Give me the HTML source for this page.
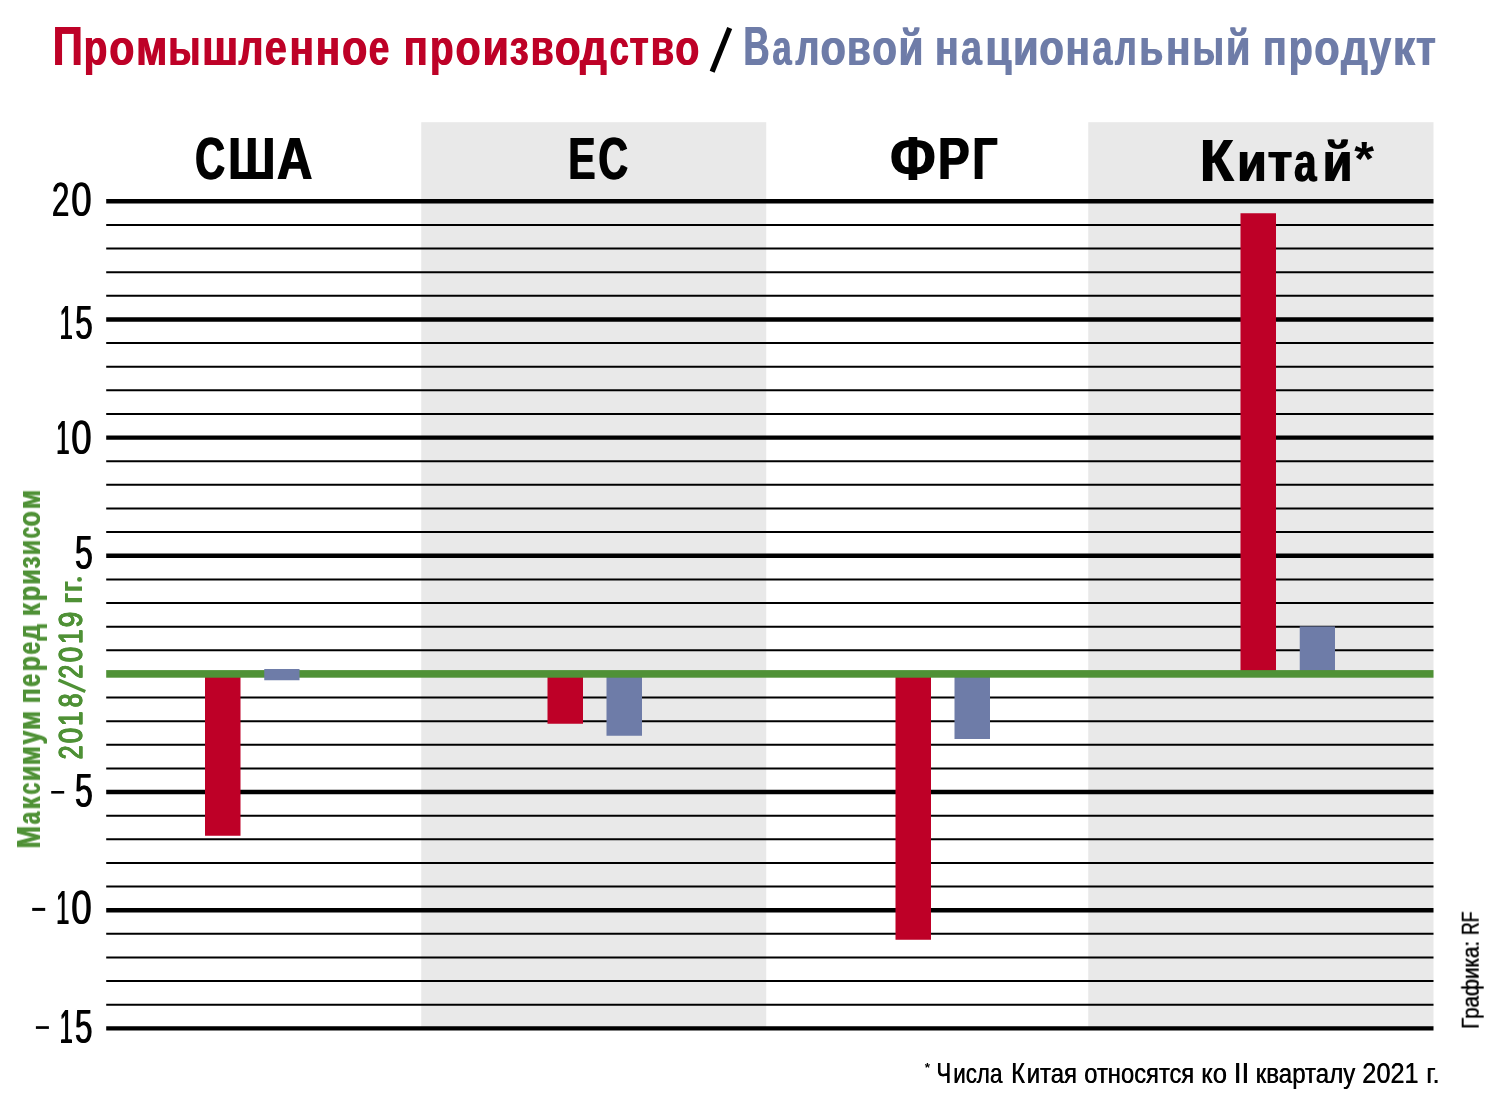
<!DOCTYPE html>
<html><head><meta charset="utf-8"><title>chart</title>
<style>
html,body{margin:0;padding:0;background:#fff;}
svg{display:block;font-family:"Liberation Sans",sans-serif;}
</style></head><body>
<svg width="1488" height="1096" viewBox="0 0 1488 1096">
<rect x="0" y="0" width="1488" height="1096" fill="#fff"/>
<rect x="421.25" y="122.2" width="345.0" height="906.20" fill="#e9e9e9"/>
<rect x="1088.25" y="122.2" width="345.25" height="906.20" fill="#e9e9e9"/>
<line x1="106.2" x2="1433.5" y1="201.30" y2="201.30" stroke="#000" stroke-width="4.4"/>
<line x1="106.2" x2="1433.5" y1="224.93" y2="224.93" stroke="#000" stroke-width="2"/>
<line x1="106.2" x2="1433.5" y1="248.56" y2="248.56" stroke="#000" stroke-width="2"/>
<line x1="106.2" x2="1433.5" y1="272.19" y2="272.19" stroke="#000" stroke-width="2"/>
<line x1="106.2" x2="1433.5" y1="295.82" y2="295.82" stroke="#000" stroke-width="2"/>
<line x1="106.2" x2="1433.5" y1="319.45" y2="319.45" stroke="#000" stroke-width="4.4"/>
<line x1="106.2" x2="1433.5" y1="343.08" y2="343.08" stroke="#000" stroke-width="2"/>
<line x1="106.2" x2="1433.5" y1="366.71" y2="366.71" stroke="#000" stroke-width="2"/>
<line x1="106.2" x2="1433.5" y1="390.34" y2="390.34" stroke="#000" stroke-width="2"/>
<line x1="106.2" x2="1433.5" y1="413.97" y2="413.97" stroke="#000" stroke-width="2"/>
<line x1="106.2" x2="1433.5" y1="437.60" y2="437.60" stroke="#000" stroke-width="4.4"/>
<line x1="106.2" x2="1433.5" y1="461.23" y2="461.23" stroke="#000" stroke-width="2"/>
<line x1="106.2" x2="1433.5" y1="484.86" y2="484.86" stroke="#000" stroke-width="2"/>
<line x1="106.2" x2="1433.5" y1="508.49" y2="508.49" stroke="#000" stroke-width="2"/>
<line x1="106.2" x2="1433.5" y1="532.12" y2="532.12" stroke="#000" stroke-width="2"/>
<line x1="106.2" x2="1433.5" y1="555.75" y2="555.75" stroke="#000" stroke-width="4.4"/>
<line x1="106.2" x2="1433.5" y1="579.38" y2="579.38" stroke="#000" stroke-width="2"/>
<line x1="106.2" x2="1433.5" y1="603.01" y2="603.01" stroke="#000" stroke-width="2"/>
<line x1="106.2" x2="1433.5" y1="626.64" y2="626.64" stroke="#000" stroke-width="2"/>
<line x1="106.2" x2="1433.5" y1="650.27" y2="650.27" stroke="#000" stroke-width="2"/>
<line x1="106.2" x2="1433.5" y1="697.53" y2="697.53" stroke="#000" stroke-width="2"/>
<line x1="106.2" x2="1433.5" y1="721.16" y2="721.16" stroke="#000" stroke-width="2"/>
<line x1="106.2" x2="1433.5" y1="744.79" y2="744.79" stroke="#000" stroke-width="2"/>
<line x1="106.2" x2="1433.5" y1="768.42" y2="768.42" stroke="#000" stroke-width="2"/>
<line x1="106.2" x2="1433.5" y1="792.05" y2="792.05" stroke="#000" stroke-width="4.4"/>
<line x1="106.2" x2="1433.5" y1="815.68" y2="815.68" stroke="#000" stroke-width="2"/>
<line x1="106.2" x2="1433.5" y1="839.31" y2="839.31" stroke="#000" stroke-width="2"/>
<line x1="106.2" x2="1433.5" y1="862.94" y2="862.94" stroke="#000" stroke-width="2"/>
<line x1="106.2" x2="1433.5" y1="886.57" y2="886.57" stroke="#000" stroke-width="2"/>
<line x1="106.2" x2="1433.5" y1="910.20" y2="910.20" stroke="#000" stroke-width="4.4"/>
<line x1="106.2" x2="1433.5" y1="933.83" y2="933.83" stroke="#000" stroke-width="2"/>
<line x1="106.2" x2="1433.5" y1="957.46" y2="957.46" stroke="#000" stroke-width="2"/>
<line x1="106.2" x2="1433.5" y1="981.09" y2="981.09" stroke="#000" stroke-width="2"/>
<line x1="106.2" x2="1433.5" y1="1004.72" y2="1004.72" stroke="#000" stroke-width="2"/>
<line x1="106.2" x2="1433.5" y1="1028.35" y2="1028.35" stroke="#000" stroke-width="4.4"/>
<rect x="205" y="674.00" width="35.5" height="161.75" fill="#be0027"/>
<rect x="547.5" y="674.00" width="35.5" height="49.75" fill="#be0027"/>
<rect x="606.5" y="674.00" width="35.5" height="61.75" fill="#6e7ca8"/>
<rect x="895.5" y="674.00" width="35.5" height="265.75" fill="#be0027"/>
<rect x="954.5" y="674.00" width="35.5" height="65.00" fill="#6e7ca8"/>
<rect x="1240.5" y="213.25" width="35.5" height="460.75" fill="#be0027"/>
<rect x="1299.75" y="626.40" width="35.25" height="47.60" fill="#6e7ca8"/>
<rect x="106.2" y="670.1" width="1327.3" height="7.6" fill="#4f9136"/>
<rect x="264.25" y="669.00" width="35.25" height="11.25" fill="#6e7ca8"/>
<g opacity="0.999">
<text transform="translate(52.13,64.90) scale(0.7610,1.0000)" font-size="55" font-weight="bold" fill="#be0027">П</text>
<text transform="translate(53.13,64.90) scale(0.7610,1.0000)" font-size="55" font-weight="bold" fill="#be0027">П</text>
<text transform="translate(83.19,64.90) scale(0.7017,0.9150)" font-size="55" font-weight="bold" fill="#be0027">р</text>
<text transform="translate(84.19,64.90) scale(0.7017,0.9150)" font-size="55" font-weight="bold" fill="#be0027">р</text>
<text transform="translate(108.71,64.90) scale(0.7481,0.9150)" font-size="55" font-weight="bold" fill="#be0027">о</text>
<text transform="translate(109.71,64.90) scale(0.7481,0.9150)" font-size="55" font-weight="bold" fill="#be0027">о</text>
<text transform="translate(135.44,64.90) scale(0.7728,0.9150)" font-size="55" font-weight="bold" fill="#be0027">м</text>
<text transform="translate(136.44,64.90) scale(0.7728,0.9150)" font-size="55" font-weight="bold" fill="#be0027">м</text>
<text transform="translate(167.64,64.90) scale(0.6870,0.9150)" font-size="55" font-weight="bold" fill="#be0027">ы</text>
<text transform="translate(168.64,64.90) scale(0.6870,0.9150)" font-size="55" font-weight="bold" fill="#be0027">ы</text>
<text transform="translate(201.38,64.90) scale(0.7926,0.9150)" font-size="55" font-weight="bold" fill="#be0027">ш</text>
<text transform="translate(202.38,64.90) scale(0.7926,0.9150)" font-size="55" font-weight="bold" fill="#be0027">ш</text>
<text transform="translate(237.90,64.90) scale(0.7139,0.9150)" font-size="55" font-weight="bold" fill="#be0027">л</text>
<text transform="translate(238.90,64.90) scale(0.7139,0.9150)" font-size="55" font-weight="bold" fill="#be0027">л</text>
<text transform="translate(264.16,64.90) scale(0.7218,0.9150)" font-size="55" font-weight="bold" fill="#be0027">е</text>
<text transform="translate(265.16,64.90) scale(0.7218,0.9150)" font-size="55" font-weight="bold" fill="#be0027">е</text>
<text transform="translate(289.06,64.90) scale(0.7376,0.9150)" font-size="55" font-weight="bold" fill="#be0027">н</text>
<text transform="translate(290.06,64.90) scale(0.7376,0.9150)" font-size="55" font-weight="bold" fill="#be0027">н</text>
<text transform="translate(315.37,64.90) scale(0.7357,0.9150)" font-size="55" font-weight="bold" fill="#be0027">н</text>
<text transform="translate(316.37,64.90) scale(0.7357,0.9150)" font-size="55" font-weight="bold" fill="#be0027">н</text>
<text transform="translate(341.60,64.90) scale(0.7547,0.9150)" font-size="55" font-weight="bold" fill="#be0027">о</text>
<text transform="translate(342.60,64.90) scale(0.7547,0.9150)" font-size="55" font-weight="bold" fill="#be0027">о</text>
<text transform="translate(368.34,64.90) scale(0.6727,0.9150)" font-size="55" font-weight="bold" fill="#be0027">е</text>
<text transform="translate(369.34,64.90) scale(0.6727,0.9150)" font-size="55" font-weight="bold" fill="#be0027">е</text>
<text transform="translate(403.27,64.90) scale(0.7226,0.9150)" font-size="55" font-weight="bold" fill="#be0027">п</text>
<text transform="translate(404.27,64.90) scale(0.7226,0.9150)" font-size="55" font-weight="bold" fill="#be0027">п</text>
<text transform="translate(429.59,64.90) scale(0.7017,0.9150)" font-size="55" font-weight="bold" fill="#be0027">р</text>
<text transform="translate(430.59,64.90) scale(0.7017,0.9150)" font-size="55" font-weight="bold" fill="#be0027">р</text>
<text transform="translate(454.96,64.90) scale(0.7481,0.9150)" font-size="55" font-weight="bold" fill="#be0027">о</text>
<text transform="translate(455.96,64.90) scale(0.7481,0.9150)" font-size="55" font-weight="bold" fill="#be0027">о</text>
<text transform="translate(482.06,64.90) scale(0.7826,0.9150)" font-size="55" font-weight="bold" fill="#be0027">и</text>
<text transform="translate(483.06,64.90) scale(0.7826,0.9150)" font-size="55" font-weight="bold" fill="#be0027">и</text>
<text transform="translate(509.16,64.90) scale(0.6922,0.9150)" font-size="55" font-weight="bold" fill="#be0027">з</text>
<text transform="translate(510.16,64.90) scale(0.6922,0.9150)" font-size="55" font-weight="bold" fill="#be0027">з</text>
<text transform="translate(530.17,64.90) scale(0.6788,0.9150)" font-size="55" font-weight="bold" fill="#be0027">в</text>
<text transform="translate(531.17,64.90) scale(0.6788,0.9150)" font-size="55" font-weight="bold" fill="#be0027">в</text>
<text transform="translate(554.18,64.90) scale(0.7680,0.9150)" font-size="55" font-weight="bold" fill="#be0027">о</text>
<text transform="translate(555.18,64.90) scale(0.7680,0.9150)" font-size="55" font-weight="bold" fill="#be0027">о</text>
<text transform="translate(579.60,64.90) scale(0.7709,0.9150)" font-size="55" font-weight="bold" fill="#be0027">д</text>
<text transform="translate(580.60,64.90) scale(0.7709,0.9150)" font-size="55" font-weight="bold" fill="#be0027">д</text>
<text transform="translate(609.18,64.90) scale(0.6236,0.9150)" font-size="55" font-weight="bold" fill="#be0027">с</text>
<text transform="translate(610.18,64.90) scale(0.6236,0.9150)" font-size="55" font-weight="bold" fill="#be0027">с</text>
<text transform="translate(628.99,64.90) scale(0.7142,0.9150)" font-size="55" font-weight="bold" fill="#be0027">т</text>
<text transform="translate(629.99,64.90) scale(0.7142,0.9150)" font-size="55" font-weight="bold" fill="#be0027">т</text>
<text transform="translate(650.37,64.90) scale(0.6929,0.9150)" font-size="55" font-weight="bold" fill="#be0027">в</text>
<text transform="translate(651.37,64.90) scale(0.6929,0.9150)" font-size="55" font-weight="bold" fill="#be0027">в</text>
<text transform="translate(674.67,64.90) scale(0.7148,0.9150)" font-size="55" font-weight="bold" fill="#be0027">о</text>
<text transform="translate(675.67,64.90) scale(0.7148,0.9150)" font-size="55" font-weight="bold" fill="#be0027">о</text>
<text transform="translate(742.95,64.90) scale(0.6560,1.0000)" font-size="55" font-weight="bold" fill="#6e7ca8">В</text>
<text transform="translate(743.95,64.90) scale(0.6560,1.0000)" font-size="55" font-weight="bold" fill="#6e7ca8">В</text>
<text transform="translate(771.96,64.90) scale(0.6234,0.9150)" font-size="55" font-weight="bold" fill="#6e7ca8">а</text>
<text transform="translate(772.96,64.90) scale(0.6234,0.9150)" font-size="55" font-weight="bold" fill="#6e7ca8">а</text>
<text transform="translate(795.00,64.90) scale(0.6840,0.9150)" font-size="55" font-weight="bold" fill="#6e7ca8">л</text>
<text transform="translate(796.00,64.90) scale(0.6840,0.9150)" font-size="55" font-weight="bold" fill="#6e7ca8">л</text>
<text transform="translate(819.95,64.90) scale(0.7564,0.9150)" font-size="55" font-weight="bold" fill="#6e7ca8">о</text>
<text transform="translate(820.95,64.90) scale(0.7564,0.9150)" font-size="55" font-weight="bold" fill="#6e7ca8">о</text>
<text transform="translate(846.58,64.90) scale(0.7052,0.9150)" font-size="55" font-weight="bold" fill="#6e7ca8">в</text>
<text transform="translate(847.58,64.90) scale(0.7052,0.9150)" font-size="55" font-weight="bold" fill="#6e7ca8">в</text>
<text transform="translate(871.83,64.90) scale(0.7364,0.9150)" font-size="55" font-weight="bold" fill="#6e7ca8">о</text>
<text transform="translate(872.83,64.90) scale(0.7364,0.9150)" font-size="55" font-weight="bold" fill="#6e7ca8">о</text>
<text transform="translate(898.06,64.90) scale(0.7376,0.9150)" font-size="55" font-weight="bold" fill="#6e7ca8">й</text>
<text transform="translate(899.06,64.90) scale(0.7376,0.9150)" font-size="55" font-weight="bold" fill="#6e7ca8">й</text>
<text transform="translate(934.45,64.90) scale(0.7132,0.9150)" font-size="55" font-weight="bold" fill="#6e7ca8">н</text>
<text transform="translate(935.45,64.90) scale(0.7132,0.9150)" font-size="55" font-weight="bold" fill="#6e7ca8">н</text>
<text transform="translate(960.67,64.90) scale(0.6732,0.9150)" font-size="55" font-weight="bold" fill="#6e7ca8">а</text>
<text transform="translate(961.67,64.90) scale(0.6732,0.9150)" font-size="55" font-weight="bold" fill="#6e7ca8">а</text>
<text transform="translate(984.83,64.90) scale(0.7780,0.9150)" font-size="55" font-weight="bold" fill="#6e7ca8">ц</text>
<text transform="translate(985.83,64.90) scale(0.7780,0.9150)" font-size="55" font-weight="bold" fill="#6e7ca8">ц</text>
<text transform="translate(1012.39,64.90) scale(0.7601,0.9150)" font-size="55" font-weight="bold" fill="#6e7ca8">и</text>
<text transform="translate(1013.39,64.90) scale(0.7601,0.9150)" font-size="55" font-weight="bold" fill="#6e7ca8">и</text>
<text transform="translate(1038.74,64.90) scale(0.7348,0.9150)" font-size="55" font-weight="bold" fill="#6e7ca8">о</text>
<text transform="translate(1039.74,64.90) scale(0.7348,0.9150)" font-size="55" font-weight="bold" fill="#6e7ca8">о</text>
<text transform="translate(1064.97,64.90) scale(0.7357,0.9150)" font-size="55" font-weight="bold" fill="#6e7ca8">н</text>
<text transform="translate(1065.97,64.90) scale(0.7357,0.9150)" font-size="55" font-weight="bold" fill="#6e7ca8">н</text>
<text transform="translate(1091.94,64.90) scale(0.6516,0.9150)" font-size="55" font-weight="bold" fill="#6e7ca8">а</text>
<text transform="translate(1092.94,64.90) scale(0.6516,0.9150)" font-size="55" font-weight="bold" fill="#6e7ca8">а</text>
<text transform="translate(1114.40,64.90) scale(0.6164,0.9150)" font-size="55" font-weight="bold" fill="#6e7ca8">л</text>
<text transform="translate(1115.40,64.90) scale(0.6164,0.9150)" font-size="55" font-weight="bold" fill="#6e7ca8">л</text>
<text transform="translate(1138.80,64.90) scale(0.7140,0.9150)" font-size="55" font-weight="bold" fill="#6e7ca8">ь</text>
<text transform="translate(1139.80,64.90) scale(0.7140,0.9150)" font-size="55" font-weight="bold" fill="#6e7ca8">ь</text>
<text transform="translate(1165.56,64.90) scale(0.7376,0.9150)" font-size="55" font-weight="bold" fill="#6e7ca8">н</text>
<text transform="translate(1166.56,64.90) scale(0.7376,0.9150)" font-size="55" font-weight="bold" fill="#6e7ca8">н</text>
<text transform="translate(1192.09,64.90) scale(0.6709,0.9150)" font-size="55" font-weight="bold" fill="#6e7ca8">ы</text>
<text transform="translate(1193.09,64.90) scale(0.6709,0.9150)" font-size="55" font-weight="bold" fill="#6e7ca8">ы</text>
<text transform="translate(1225.62,64.90) scale(0.7207,0.9150)" font-size="55" font-weight="bold" fill="#6e7ca8">й</text>
<text transform="translate(1226.62,64.90) scale(0.7207,0.9150)" font-size="55" font-weight="bold" fill="#6e7ca8">й</text>
<text transform="translate(1262.55,64.90) scale(0.7132,0.9150)" font-size="55" font-weight="bold" fill="#6e7ca8">п</text>
<text transform="translate(1263.55,64.90) scale(0.7132,0.9150)" font-size="55" font-weight="bold" fill="#6e7ca8">п</text>
<text transform="translate(1288.14,64.90) scale(0.7158,0.9150)" font-size="55" font-weight="bold" fill="#6e7ca8">р</text>
<text transform="translate(1289.14,64.90) scale(0.7158,0.9150)" font-size="55" font-weight="bold" fill="#6e7ca8">р</text>
<text transform="translate(1313.70,64.90) scale(0.7564,0.9150)" font-size="55" font-weight="bold" fill="#6e7ca8">о</text>
<text transform="translate(1314.70,64.90) scale(0.7564,0.9150)" font-size="55" font-weight="bold" fill="#6e7ca8">о</text>
<text transform="translate(1340.60,64.90) scale(0.7709,0.9150)" font-size="55" font-weight="bold" fill="#6e7ca8">д</text>
<text transform="translate(1341.60,64.90) scale(0.7709,0.9150)" font-size="55" font-weight="bold" fill="#6e7ca8">д</text>
<text transform="translate(1368.75,64.90) scale(0.7160,0.9150)" font-size="55" font-weight="bold" fill="#6e7ca8">у</text>
<text transform="translate(1369.75,64.90) scale(0.7160,0.9150)" font-size="55" font-weight="bold" fill="#6e7ca8">у</text>
<text transform="translate(1392.21,64.90) scale(0.8125,0.9150)" font-size="55" font-weight="bold" fill="#6e7ca8">к</text>
<text transform="translate(1393.21,64.90) scale(0.8125,0.9150)" font-size="55" font-weight="bold" fill="#6e7ca8">к</text>
<text transform="translate(1415.62,64.90) scale(0.7363,0.9150)" font-size="55" font-weight="bold" fill="#6e7ca8">т</text>
<text transform="translate(1416.62,64.90) scale(0.7363,0.9150)" font-size="55" font-weight="bold" fill="#6e7ca8">т</text>
<line x1="712.15" y1="71.8" x2="729.7" y2="28.1" stroke="#000" stroke-width="5.3"/>
<text transform="translate(194.51,178.80) scale(0.6941,1.0000)" font-size="59.4" font-weight="bold" fill="#000">С</text>
<text transform="translate(196.01,178.80) scale(0.6941,1.0000)" font-size="59.4" font-weight="bold" fill="#000">С</text>
<text transform="translate(227.47,178.80) scale(0.7882,1.0000)" font-size="59.4" font-weight="bold" fill="#000">Ш</text>
<text transform="translate(228.97,178.80) scale(0.7882,1.0000)" font-size="59.4" font-weight="bold" fill="#000">Ш</text>
<text transform="translate(276.23,178.80) scale(0.8252,1.0000)" font-size="59.4" font-weight="bold" fill="#000">А</text>
<text transform="translate(277.73,178.80) scale(0.8252,1.0000)" font-size="59.4" font-weight="bold" fill="#000">А</text>
<text transform="translate(567.78,178.80) scale(0.6785,1.0000)" font-size="59.4" font-weight="bold" fill="#000">Е</text>
<text transform="translate(569.28,178.80) scale(0.6785,1.0000)" font-size="59.4" font-weight="bold" fill="#000">Е</text>
<text transform="translate(597.83,178.80) scale(0.6866,1.0000)" font-size="59.4" font-weight="bold" fill="#000">С</text>
<text transform="translate(599.33,178.80) scale(0.6866,1.0000)" font-size="59.4" font-weight="bold" fill="#000">С</text>
<text transform="translate(889.54,179.80) scale(0.8936,1.0500)" font-size="59.4" font-weight="bold" fill="#000">Ф</text>
<text transform="translate(891.04,179.80) scale(0.8936,1.0500)" font-size="59.4" font-weight="bold" fill="#000">Ф</text>
<text transform="translate(937.24,178.80) scale(0.7979,1.0000)" font-size="59.4" font-weight="bold" fill="#000">Р</text>
<text transform="translate(938.74,178.80) scale(0.7979,1.0000)" font-size="59.4" font-weight="bold" fill="#000">Р</text>
<text transform="translate(971.75,178.80) scale(0.7407,1.0000)" font-size="59.4" font-weight="bold" fill="#000">Г</text>
<text transform="translate(973.25,178.80) scale(0.7407,1.0000)" font-size="59.4" font-weight="bold" fill="#000">Г</text>
<text transform="translate(1199.34,181.20) scale(0.9308,1.0000)" font-size="59.4" font-weight="bold" fill="#000">К</text>
<text transform="translate(1200.84,181.20) scale(0.9308,1.0000)" font-size="59.4" font-weight="bold" fill="#000">К</text>
<text transform="translate(1236.51,181.20) scale(0.8063,0.9300)" font-size="59.4" font-weight="bold" fill="#000">и</text>
<text transform="translate(1238.01,181.20) scale(0.8063,0.9300)" font-size="59.4" font-weight="bold" fill="#000">и</text>
<text transform="translate(1266.92,181.20) scale(0.8434,0.9300)" font-size="59.4" font-weight="bold" fill="#000">т</text>
<text transform="translate(1268.42,181.20) scale(0.8434,0.9300)" font-size="59.4" font-weight="bold" fill="#000">т</text>
<text transform="translate(1293.58,181.20) scale(0.6680,0.9300)" font-size="59.4" font-weight="bold" fill="#000">а</text>
<text transform="translate(1295.08,181.20) scale(0.6680,0.9300)" font-size="59.4" font-weight="bold" fill="#000">а</text>
<text transform="translate(1322.08,181.20) scale(0.8133,0.9300)" font-size="59.4" font-weight="bold" fill="#000">й</text>
<text transform="translate(1323.58,181.20) scale(0.8133,0.9300)" font-size="59.4" font-weight="bold" fill="#000">й</text>
<text transform="translate(1354.20,175.04) scale(0.8576,0.8102)" font-size="59.4" font-weight="bold" fill="#000">*</text>
<text transform="translate(51.42,216.30) scale(0.6510,1.0000)" font-size="48.5" font-weight="normal" fill="#000">2</text>
<text transform="translate(52.32,216.30) scale(0.6510,1.0000)" font-size="48.5" font-weight="normal" fill="#000">2</text>
<text transform="translate(70.76,216.30) scale(0.7546,1.0000)" font-size="48.5" font-weight="normal" fill="#000">0</text>
<text transform="translate(71.66,216.30) scale(0.7546,1.0000)" font-size="48.5" font-weight="normal" fill="#000">0</text>
<text transform="translate(59.25,339.30) scale(0.4778,1.0000)" font-size="48.5" font-weight="normal" fill="#000">1</text>
<text transform="translate(60.15,339.30) scale(0.4778,1.0000)" font-size="48.5" font-weight="normal" fill="#000">1</text>
<text transform="translate(74.82,339.30) scale(0.6470,1.0000)" font-size="48.5" font-weight="normal" fill="#000">5</text>
<text transform="translate(75.72,339.30) scale(0.6470,1.0000)" font-size="48.5" font-weight="normal" fill="#000">5</text>
<text transform="translate(55.81,454.40) scale(0.4914,1.0000)" font-size="48.5" font-weight="normal" fill="#000">1</text>
<text transform="translate(56.71,454.40) scale(0.4914,1.0000)" font-size="48.5" font-weight="normal" fill="#000">1</text>
<text transform="translate(70.76,454.40) scale(0.7546,1.0000)" font-size="48.5" font-weight="normal" fill="#000">0</text>
<text transform="translate(71.66,454.40) scale(0.7546,1.0000)" font-size="48.5" font-weight="normal" fill="#000">0</text>
<text transform="translate(74.50,569.10) scale(0.6598,1.0000)" font-size="48.5" font-weight="normal" fill="#000">5</text>
<text transform="translate(75.40,569.10) scale(0.6598,1.0000)" font-size="48.5" font-weight="normal" fill="#000">5</text>
<text transform="translate(74.50,807.10) scale(0.6598,1.0000)" font-size="48.5" font-weight="normal" fill="#000">5</text>
<text transform="translate(75.40,807.10) scale(0.6598,1.0000)" font-size="48.5" font-weight="normal" fill="#000">5</text>
<text transform="translate(55.71,924.40) scale(0.4914,1.0000)" font-size="48.5" font-weight="normal" fill="#000">1</text>
<text transform="translate(56.61,924.40) scale(0.4914,1.0000)" font-size="48.5" font-weight="normal" fill="#000">1</text>
<text transform="translate(70.75,924.40) scale(0.7588,1.0000)" font-size="48.5" font-weight="normal" fill="#000">0</text>
<text transform="translate(71.65,924.40) scale(0.7588,1.0000)" font-size="48.5" font-weight="normal" fill="#000">0</text>
<text transform="translate(59.35,1042.80) scale(0.4778,1.0000)" font-size="48.5" font-weight="normal" fill="#000">1</text>
<text transform="translate(60.25,1042.80) scale(0.4778,1.0000)" font-size="48.5" font-weight="normal" fill="#000">1</text>
<text transform="translate(74.62,1042.80) scale(0.6470,1.0000)" font-size="48.5" font-weight="normal" fill="#000">5</text>
<text transform="translate(75.52,1042.80) scale(0.6470,1.0000)" font-size="48.5" font-weight="normal" fill="#000">5</text>
<rect x="51.2" y="791" width="13.00" height="2.60" fill="#000"/>
<rect x="32.2" y="907.9" width="13.00" height="3.00" fill="#000"/>
<rect x="35.9" y="1026.2" width="13.00" height="2.70" fill="#000"/>
<g transform="translate(40,847.6) rotate(-90)">
<text transform="translate(-1.30,0.00) scale(0.8075,1.0000)" font-size="33.6" font-weight="bold" fill="#4f9136">М</text>
<text transform="translate(-0.60,0.00) scale(0.8075,1.0000)" font-size="33.6" font-weight="bold" fill="#4f9136">М</text>
<text transform="translate(23.05,0.00) scale(0.6694,0.9400)" font-size="33.6" font-weight="bold" fill="#4f9136">а</text>
<text transform="translate(23.75,0.00) scale(0.6694,0.9400)" font-size="33.6" font-weight="bold" fill="#4f9136">а</text>
<text transform="translate(37.86,0.00) scale(0.7816,0.9400)" font-size="33.6" font-weight="bold" fill="#4f9136">к</text>
<text transform="translate(38.56,0.00) scale(0.7816,0.9400)" font-size="33.6" font-weight="bold" fill="#4f9136">к</text>
<text transform="translate(52.84,0.00) scale(0.6310,0.9400)" font-size="33.6" font-weight="bold" fill="#4f9136">с</text>
<text transform="translate(53.54,0.00) scale(0.6310,0.9400)" font-size="33.6" font-weight="bold" fill="#4f9136">с</text>
<text transform="translate(66.01,0.00) scale(0.7558,0.9400)" font-size="33.6" font-weight="bold" fill="#4f9136">и</text>
<text transform="translate(66.71,0.00) scale(0.7558,0.9400)" font-size="33.6" font-weight="bold" fill="#4f9136">и</text>
<text transform="translate(81.98,0.00) scale(0.7717,0.9400)" font-size="33.6" font-weight="bold" fill="#4f9136">м</text>
<text transform="translate(82.68,0.00) scale(0.7717,0.9400)" font-size="33.6" font-weight="bold" fill="#4f9136">м</text>
<text transform="translate(102.70,0.00) scale(0.7407,0.9400)" font-size="33.6" font-weight="bold" fill="#4f9136">у</text>
<text transform="translate(103.40,0.00) scale(0.7407,0.9400)" font-size="33.6" font-weight="bold" fill="#4f9136">у</text>
<text transform="translate(117.19,0.00) scale(0.7668,0.9400)" font-size="33.6" font-weight="bold" fill="#4f9136">м</text>
<text transform="translate(117.89,0.00) scale(0.7668,0.9400)" font-size="33.6" font-weight="bold" fill="#4f9136">м</text>
<text transform="translate(143.95,0.00) scale(0.7373,0.9400)" font-size="33.6" font-weight="bold" fill="#4f9136">п</text>
<text transform="translate(144.65,0.00) scale(0.7373,0.9400)" font-size="33.6" font-weight="bold" fill="#4f9136">п</text>
<text transform="translate(160.48,0.00) scale(0.6905,0.9400)" font-size="33.6" font-weight="bold" fill="#4f9136">е</text>
<text transform="translate(161.18,0.00) scale(0.6905,0.9400)" font-size="33.6" font-weight="bold" fill="#4f9136">е</text>
<text transform="translate(176.06,0.00) scale(0.7330,0.9400)" font-size="33.6" font-weight="bold" fill="#4f9136">р</text>
<text transform="translate(176.76,0.00) scale(0.7330,0.9400)" font-size="33.6" font-weight="bold" fill="#4f9136">р</text>
<text transform="translate(192.67,0.00) scale(0.6905,0.9400)" font-size="33.6" font-weight="bold" fill="#4f9136">е</text>
<text transform="translate(193.37,0.00) scale(0.6905,0.9400)" font-size="33.6" font-weight="bold" fill="#4f9136">е</text>
<text transform="translate(206.70,0.00) scale(0.7667,0.9400)" font-size="33.6" font-weight="bold" fill="#4f9136">д</text>
<text transform="translate(207.40,0.00) scale(0.7667,0.9400)" font-size="33.6" font-weight="bold" fill="#4f9136">д</text>
<text transform="translate(230.96,0.00) scale(0.7816,0.9400)" font-size="33.6" font-weight="bold" fill="#4f9136">к</text>
<text transform="translate(231.66,0.00) scale(0.7816,0.9400)" font-size="33.6" font-weight="bold" fill="#4f9136">к</text>
<text transform="translate(246.02,0.00) scale(0.7504,0.9400)" font-size="33.6" font-weight="bold" fill="#4f9136">р</text>
<text transform="translate(246.72,0.00) scale(0.7504,0.9400)" font-size="33.6" font-weight="bold" fill="#4f9136">р</text>
<text transform="translate(262.51,0.00) scale(0.7558,0.9400)" font-size="33.6" font-weight="bold" fill="#4f9136">и</text>
<text transform="translate(263.21,0.00) scale(0.7558,0.9400)" font-size="33.6" font-weight="bold" fill="#4f9136">и</text>
<text transform="translate(278.72,0.00) scale(0.7225,0.9400)" font-size="33.6" font-weight="bold" fill="#4f9136">з</text>
<text transform="translate(279.42,0.00) scale(0.7225,0.9400)" font-size="33.6" font-weight="bold" fill="#4f9136">з</text>
<text transform="translate(291.91,0.00) scale(0.7558,0.9400)" font-size="33.6" font-weight="bold" fill="#4f9136">и</text>
<text transform="translate(292.61,0.00) scale(0.7558,0.9400)" font-size="33.6" font-weight="bold" fill="#4f9136">и</text>
<text transform="translate(308.96,0.00) scale(0.6071,0.9400)" font-size="33.6" font-weight="bold" fill="#4f9136">с</text>
<text transform="translate(309.66,0.00) scale(0.6071,0.9400)" font-size="33.6" font-weight="bold" fill="#4f9136">с</text>
<text transform="translate(320.72,0.00) scale(0.7456,0.9400)" font-size="33.6" font-weight="bold" fill="#4f9136">о</text>
<text transform="translate(321.42,0.00) scale(0.7456,0.9400)" font-size="33.6" font-weight="bold" fill="#4f9136">о</text>
<text transform="translate(338.06,0.00) scale(0.7814,0.9400)" font-size="33.6" font-weight="bold" fill="#4f9136">м</text>
<text transform="translate(338.76,0.00) scale(0.7814,0.9400)" font-size="33.6" font-weight="bold" fill="#4f9136">м</text>
</g>
<g transform="translate(82,758.8) rotate(-90)">
<text transform="translate(-0.73,-0.45) scale(0.7492,1.0000)" font-size="33.6" font-weight="normal" fill="#4f9136" stroke="#4f9136" stroke-width="0.9" vector-effect="non-scaling-stroke" stroke-linejoin="round">2</text>
<text transform="translate(-0.43,-0.45) scale(0.7492,1.0000)" font-size="33.6" font-weight="normal" fill="#4f9136" stroke="#4f9136" stroke-width="0.9" vector-effect="non-scaling-stroke" stroke-linejoin="round">2</text>
<text transform="translate(15.39,-0.45) scale(0.8214,1.0000)" font-size="33.6" font-weight="normal" fill="#4f9136" stroke="#4f9136" stroke-width="0.9" vector-effect="non-scaling-stroke" stroke-linejoin="round">0</text>
<text transform="translate(15.69,-0.45) scale(0.8214,1.0000)" font-size="33.6" font-weight="normal" fill="#4f9136" stroke="#4f9136" stroke-width="0.9" vector-effect="non-scaling-stroke" stroke-linejoin="round">0</text>
<text transform="translate(32.72,-0.45) scale(0.7750,1.0000)" font-size="33.6" font-weight="normal" fill="#4f9136" stroke="#4f9136" stroke-width="0.9" vector-effect="non-scaling-stroke" stroke-linejoin="round">1</text>
<text transform="translate(33.02,-0.45) scale(0.7750,1.0000)" font-size="33.6" font-weight="normal" fill="#4f9136" stroke="#4f9136" stroke-width="0.9" vector-effect="non-scaling-stroke" stroke-linejoin="round">1</text>
<text transform="translate(51.38,-0.45) scale(0.7312,1.0000)" font-size="33.6" font-weight="normal" fill="#4f9136" stroke="#4f9136" stroke-width="0.9" vector-effect="non-scaling-stroke" stroke-linejoin="round">8</text>
<text transform="translate(51.68,-0.45) scale(0.7312,1.0000)" font-size="33.6" font-weight="normal" fill="#4f9136" stroke="#4f9136" stroke-width="0.9" vector-effect="non-scaling-stroke" stroke-linejoin="round">8</text>
<text transform="translate(80.07,-0.45) scale(0.7492,1.0000)" font-size="33.6" font-weight="normal" fill="#4f9136" stroke="#4f9136" stroke-width="0.9" vector-effect="non-scaling-stroke" stroke-linejoin="round">2</text>
<text transform="translate(80.37,-0.45) scale(0.7492,1.0000)" font-size="33.6" font-weight="normal" fill="#4f9136" stroke="#4f9136" stroke-width="0.9" vector-effect="non-scaling-stroke" stroke-linejoin="round">2</text>
<text transform="translate(96.38,-0.45) scale(0.8274,1.0000)" font-size="33.6" font-weight="normal" fill="#4f9136" stroke="#4f9136" stroke-width="0.9" vector-effect="non-scaling-stroke" stroke-linejoin="round">0</text>
<text transform="translate(96.68,-0.45) scale(0.8274,1.0000)" font-size="33.6" font-weight="normal" fill="#4f9136" stroke="#4f9136" stroke-width="0.9" vector-effect="non-scaling-stroke" stroke-linejoin="round">0</text>
<text transform="translate(114.82,-0.45) scale(0.7750,1.0000)" font-size="33.6" font-weight="normal" fill="#4f9136" stroke="#4f9136" stroke-width="0.9" vector-effect="non-scaling-stroke" stroke-linejoin="round">1</text>
<text transform="translate(115.12,-0.45) scale(0.7750,1.0000)" font-size="33.6" font-weight="normal" fill="#4f9136" stroke="#4f9136" stroke-width="0.9" vector-effect="non-scaling-stroke" stroke-linejoin="round">1</text>
<text transform="translate(131.33,-0.45) scale(0.8381,1.0000)" font-size="33.6" font-weight="normal" fill="#4f9136" stroke="#4f9136" stroke-width="0.9" vector-effect="non-scaling-stroke" stroke-linejoin="round">9</text>
<text transform="translate(131.63,-0.45) scale(0.8381,1.0000)" font-size="33.6" font-weight="normal" fill="#4f9136" stroke="#4f9136" stroke-width="0.9" vector-effect="non-scaling-stroke" stroke-linejoin="round">9</text>
<text transform="translate(154.88,0.00) scale(0.7710,0.9400)" font-size="33.6" font-weight="bold" fill="#4f9136">г</text>
<text transform="translate(155.58,0.00) scale(0.7710,0.9400)" font-size="33.6" font-weight="bold" fill="#4f9136">г</text>
<text transform="translate(166.10,0.00) scale(0.8073,0.9400)" font-size="33.6" font-weight="bold" fill="#4f9136">г</text>
<text transform="translate(166.80,0.00) scale(0.8073,0.9400)" font-size="33.6" font-weight="bold" fill="#4f9136">г</text>
</g>
<line x1="85.3" y1="691.5" x2="58.5" y2="680.0" stroke="#4f9136" stroke-width="3.4"/>
<circle cx="79.5" cy="579.4" r="2.45" fill="#4f9136"/>
<g transform="translate(1478.7,1027.5) rotate(-90)">
<text transform="translate(-1.61,0.00) scale(0.8448,1.0000)" font-size="24.4" font-weight="normal" fill="#000">Графика:</text>
<text transform="translate(-1.21,0.00) scale(0.8448,1.0000)" font-size="24.4" font-weight="normal" fill="#000">Графика:</text>
<text transform="translate(92.33,0.00) scale(0.7210,1.0000)" font-size="24.4" font-weight="normal" fill="#000">RF</text>
<text transform="translate(92.73,0.00) scale(0.7210,1.0000)" font-size="24.4" font-weight="normal" fill="#000">RF</text>
</g>
<g>
<text transform="translate(924.80,1071.64) scale(0.8480,0.8480)" font-size="16" font-weight="bold" fill="#000">*</text>
<text transform="translate(936.33,1083.00) scale(0.7241,1.0000)" font-size="30.4" font-weight="normal" fill="#000">Ч</text>
<text transform="translate(936.83,1083.00) scale(0.7241,1.0000)" font-size="30.4" font-weight="normal" fill="#000">Ч</text>
<text transform="translate(952.90,1083.00) scale(0.7371,0.9350)" font-size="30.4" font-weight="normal" fill="#000">исла</text>
<text transform="translate(953.40,1083.00) scale(0.7371,0.9350)" font-size="30.4" font-weight="normal" fill="#000">исла</text>
<text transform="translate(1010.96,1083.00) scale(0.7763,1.0000)" font-size="30.4" font-weight="normal" fill="#000">К</text>
<text transform="translate(1011.46,1083.00) scale(0.7763,1.0000)" font-size="30.4" font-weight="normal" fill="#000">К</text>
<text transform="translate(1026.50,1083.00) scale(0.7878,0.9350)" font-size="30.4" font-weight="normal" fill="#000">итая</text>
<text transform="translate(1027.00,1083.00) scale(0.7878,0.9350)" font-size="30.4" font-weight="normal" fill="#000">итая</text>
<text transform="translate(1083.96,1083.00) scale(0.7822,0.9350)" font-size="30.4" font-weight="normal" fill="#000">относятся</text>
<text transform="translate(1084.46,1083.00) scale(0.7822,0.9350)" font-size="30.4" font-weight="normal" fill="#000">относятся</text>
<text transform="translate(1201.10,1083.00) scale(0.8426,0.9350)" font-size="30.4" font-weight="normal" fill="#000">ко</text>
<text transform="translate(1201.60,1083.00) scale(0.8426,0.9350)" font-size="30.4" font-weight="normal" fill="#000">ко</text>
<text transform="translate(1233.50,1083.00) scale(0.9260,1.0000)" font-size="30.4" font-weight="normal" fill="#000">II</text>
<text transform="translate(1234.00,1083.00) scale(0.9260,1.0000)" font-size="30.4" font-weight="normal" fill="#000">II</text>
<text transform="translate(1255.60,1083.00) scale(0.7909,0.9350)" font-size="30.4" font-weight="normal" fill="#000">кварталу</text>
<text transform="translate(1256.10,1083.00) scale(0.7909,0.9350)" font-size="30.4" font-weight="normal" fill="#000">кварталу</text>
<text transform="translate(1362.12,1083.00) scale(0.8296,1.0000)" font-size="30.4" font-weight="normal" fill="#000">2021</text>
<text transform="translate(1362.62,1083.00) scale(0.8296,1.0000)" font-size="30.4" font-weight="normal" fill="#000">2021</text>
<text transform="translate(1426.09,1083.00) scale(0.8499,0.9350)" font-size="30.4" font-weight="normal" fill="#000">г.</text>
<text transform="translate(1426.59,1083.00) scale(0.8499,0.9350)" font-size="30.4" font-weight="normal" fill="#000">г.</text>
</g>
</g>
</svg></body></html>
